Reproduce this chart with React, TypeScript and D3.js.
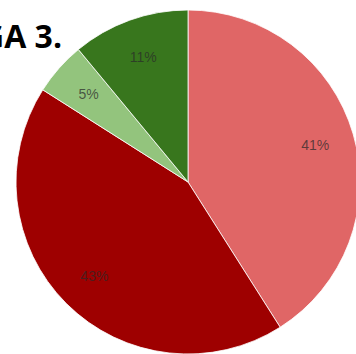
import React from "react";
import * as d3 from "d3";

const categories = ["A", "B", "C", "D"];
const values = [41, 43, 5, 11];
const labels = ["41%", "43%", "5%", "11%"];
const colors = ["#e06666", "#9e0000", "#93c47d", "#38761d"];
const title = "GA 3.";

const W = 356;
const H = 354;
const cx = 188;
const cy = 182;
const R = 172;

export default function App() {
  const pie = d3.pie<number>().sort(null).value((d) => d);
  const arcs = pie(values);
  const arc = d3.arc<d3.PieArcDatum<number>>().innerRadius(0).outerRadius(R);
  const labelArc = d3
    .arc<d3.PieArcDatum<number>>()
    .innerRadius(R * 0.77)
    .outerRadius(R * 0.77);
  return (
    <svg
      width={W}
      height={H}
      style={{ position: "absolute", left: 0, top: 0, display: "block", background: "#fff" }}
    >
      <g transform={`translate(${cx},${cy})`}>
        {arcs.map((a, i) => (
          <path key={categories[i]} d={arc(a) || ""} fill={colors[i]} stroke="#fff" strokeWidth={0.8} />
        ))}
        {arcs.map((a, i) => {
          const [x, y] = labelArc.centroid(a);
          return (
            <text
              key={"l" + i}
              x={x}
              y={y}
              dy="0.35em"
              textAnchor="middle"
              fontFamily="'Liberation Sans', Arial, sans-serif"
              fontSize={14}
              fill="#2a2a2a"
              fillOpacity={0.72}
            >
              {labels[i]}
            </text>
          );
        })}
      </g>
      <text
        x={62}
        y={48}
        textAnchor="end"
        fontFamily="'Open Sans', sans-serif"
        fontWeight="bold"
        fontSize={32}
        fill="#000"
      >
        {title}
      </text>
    </svg>
  );
}
